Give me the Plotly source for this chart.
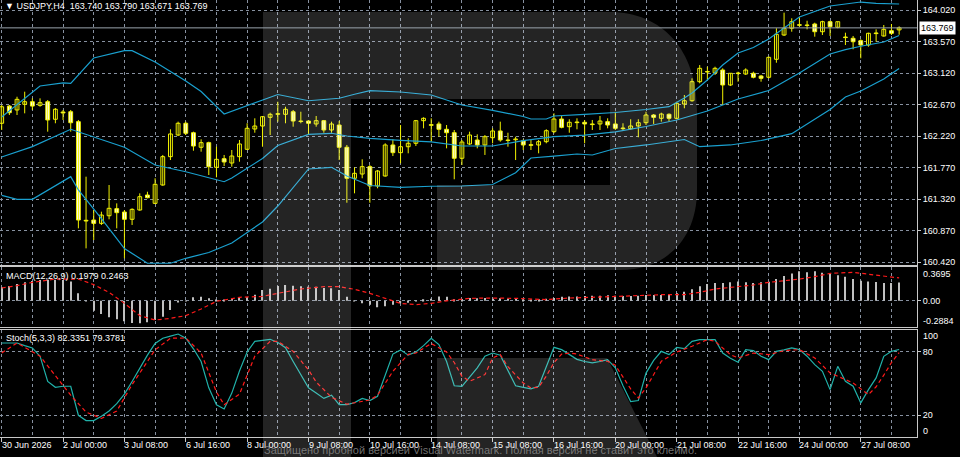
import plotly.graph_objects as go
from plotly.subplots import make_subplots

# USDJPY H4, values (bar index 0 = leftmost candle)
bar_idx = list(range(118))

open_ = [162.406, 162.652, 162.596, 162.677, 162.714, 162.662, 162.714, 162.463, 162.567, 162.571,
         162.429, 161.020, 161.024, 160.976, 161.085, 161.186, 161.138, 161.034, 161.167, 161.381,
         161.262, 161.524, 161.929, 162.238, 162.406, 162.271, 162.063, 162.129, 161.777, 161.900,
         161.838, 161.929, 162.034, 162.324, 162.367, 162.491, 162.534, 162.534, 162.571, 162.438,
         162.438, 162.396, 162.443, 162.310, 162.381, 162.063, 161.620, 161.681, 161.786, 161.510,
         161.653, 162.096, 161.986, 162.071, 162.120, 162.443, 162.386, 162.396, 162.320, 162.271,
         161.906, 162.110, 162.167, 162.096, 162.200, 162.296, 162.167, 162.171, 162.157, 162.100,
         162.096, 162.143, 162.286, 162.467, 162.357, 162.424, 162.420, 162.396, 162.396, 162.429,
         162.396, 162.338, 162.328, 162.367, 162.414, 162.524, 162.477, 162.534, 162.477, 162.681,
         162.728, 163.000, 163.146, 163.128, 163.167, 162.953, 163.124, 163.110, 163.120, 163.081,
         163.063, 163.320, 163.667, 163.763, 163.814, 163.810, 163.824, 163.714, 163.857, 163.777,
         163.638, 163.620, 163.586, 163.524, 163.696, 163.653, 163.728, 163.740]
high = [162.667, 162.667, 162.785, 162.857, 162.762, 162.762, 162.738, 162.624, 162.596, 162.596,
        162.453, 161.643, 161.167, 161.143, 161.524, 161.262, 161.167, 161.191, 161.405, 161.428,
        161.620, 161.953, 162.320, 162.429, 162.429, 162.286, 162.177, 162.143, 162.071, 161.953,
        162.024, 162.167, 162.406, 162.477, 162.510, 162.557, 162.714, 162.642, 162.596, 162.571,
        162.446, 162.510, 162.453, 162.429, 162.438, 162.096, 161.777, 161.891, 161.810, 161.738,
        162.120, 162.177, 162.381, 162.191, 162.453, 162.491, 162.477, 162.429, 162.381, 162.310,
        162.167, 162.286, 162.248, 162.238, 162.334, 162.429, 162.271, 162.214, 162.177, 162.177,
        162.167, 162.320, 162.548, 162.510, 162.463, 162.477, 162.453, 162.453, 162.510, 162.477,
        162.571, 162.406, 162.463, 162.463, 162.571, 162.538, 162.557, 162.548, 162.714, 162.810,
        163.048, 163.238, 163.214, 163.214, 163.191, 163.120, 163.143, 163.191, 163.143, 163.096,
        163.357, 163.763, 163.986, 163.906, 163.920, 163.871, 163.843, 163.871, 163.871, 163.857,
        163.700, 163.653, 163.606, 163.700, 163.748, 163.810, 163.824, 163.790]
low = [162.310, 162.524, 162.524, 162.548, 162.596, 162.642, 162.286, 162.406, 162.453, 162.286,
       160.905, 160.619, 160.738, 160.953, 161.034, 160.905, 160.477, 160.953, 161.157, 161.334,
       161.253, 161.514, 161.881, 162.224, 162.238, 162.014, 162.000, 161.667, 161.634, 161.796,
       161.786, 161.857, 162.024, 162.271, 162.071, 162.238, 162.429, 162.406, 162.357, 162.406,
       162.238, 162.357, 162.271, 162.271, 161.881, 161.271, 161.405, 161.620, 161.271, 161.477,
       161.643, 161.938, 161.834, 161.977, 162.081, 162.334, 162.143, 162.214, 162.048, 161.606,
       161.810, 162.096, 162.048, 161.953, 162.120, 162.143, 162.071, 161.881, 162.024, 162.024,
       161.977, 162.120, 162.263, 162.334, 162.271, 162.320, 162.120, 162.310, 162.310, 162.334,
       162.310, 162.300, 162.310, 162.206, 162.381, 162.396, 162.429, 162.429, 162.463, 162.620,
       162.714, 162.977, 163.024, 163.096, 162.667, 162.938, 163.000, 163.096, 163.048, 163.000,
       163.048, 163.271, 163.653, 163.714, 163.786, 163.748, 163.643, 163.667, 163.653, 163.763,
       163.524, 163.463, 163.334, 163.500, 163.571, 163.643, 163.667, 163.671]
close = [162.642, 162.557, 162.748, 162.714, 162.652, 162.700, 162.453, 162.606, 162.553, 162.414,
         161.024, 161.010, 160.976, 161.095, 161.191, 161.129, 161.034, 161.176, 161.357, 161.343,
         161.534, 161.929, 162.253, 162.406, 162.263, 162.081, 162.129, 161.786, 161.891, 161.853,
         161.938, 162.110, 162.334, 162.367, 162.500, 162.534, 162.543, 162.606, 162.438, 162.431,
         162.406, 162.443, 162.310, 162.396, 162.063, 161.620, 161.691, 161.786, 161.510, 161.724,
         162.096, 161.986, 162.071, 162.120, 162.443, 162.477, 162.377, 162.320, 162.271, 161.906,
         162.138, 162.238, 162.096, 162.214, 162.296, 162.167, 162.160, 162.181, 162.096, 162.091,
         162.143, 162.300, 162.467, 162.348, 162.420, 162.415, 162.396, 162.387, 162.438, 162.381,
         162.334, 162.329, 162.367, 162.414, 162.524, 162.491, 162.538, 162.477, 162.691, 162.728,
         163.000, 163.191, 163.138, 163.191, 162.953, 163.120, 163.116, 163.167, 163.063, 163.048,
         163.348, 163.677, 163.763, 163.857, 163.806, 163.803, 163.714, 163.857, 163.786, 163.857,
         163.630, 163.571, 163.524, 163.691, 163.687, 163.748, 163.691, 163.769]

# Bollinger bands, read at selected bars
upper_idx = [0, 2, 5, 8, 9, 12, 16, 17, 20, 24, 26, 29, 33, 36, 40, 44, 46, 48, 52, 56,
             60, 64, 68, 69, 71, 72, 76, 80, 84, 87, 89, 90, 92, 94, 96, 98, 100, 104, 108, 112,
             114, 117]
upper = [162.495, 162.667, 162.938, 162.984, 162.977, 163.338, 163.443, 163.443, 163.281, 163.010,
         162.860, 162.538, 162.703, 162.817, 162.728, 162.763, 162.820, 162.871, 162.853, 162.810,
         162.667, 162.591, 162.503, 162.467, 162.467, 162.510, 162.534, 162.560, 162.603, 162.643,
         162.767, 162.838, 163.024, 163.238, 163.410, 163.488, 163.610, 163.924, 164.081, 164.138,
         164.120, 164.110]
middle_idx = [0, 4, 9, 13, 16, 20, 24, 29, 30, 34, 36, 40, 43, 45, 48, 52, 56, 60, 64, 68,
              72, 76, 80, 84, 88, 92, 96, 100, 104, 108, 110, 112, 115, 117]
middle = [161.924, 162.073, 162.320, 162.167, 162.063, 161.810, 161.714, 161.571, 161.624, 161.903,
          162.088, 162.248, 162.263, 162.224, 162.191, 162.163, 162.141, 162.081, 162.081, 162.158,
          162.214, 162.237, 162.283, 162.360, 162.453, 162.581, 162.753, 162.874, 163.124, 163.396,
          163.457, 163.506, 163.567, 163.660]
lower_idx = [0, 2, 4, 6, 9, 10, 13, 16, 19, 22, 24, 27, 30, 34, 36, 40, 43, 45, 48, 52,
             56, 60, 64, 67, 69, 72, 75, 77, 80, 84, 88, 89, 91, 95, 99, 103, 108, 110, 112, 115,
             117]
lower = [161.377, 161.320, 161.320, 161.453, 161.643, 161.453, 161.045, 160.617, 160.406, 160.406,
         160.477, 160.560, 160.696, 160.996, 161.224, 161.753, 161.777, 161.653, 161.517, 161.491,
         161.506, 161.510, 161.531, 161.700, 161.910, 161.938, 161.967, 161.953, 162.046, 162.096,
         162.167, 162.174, 162.071, 162.096, 162.160, 162.257, 162.603, 162.781, 162.867, 163.038,
         163.188]

# MACD(12,26,9)
macd = [0.145, 0.159, 0.181, 0.199, 0.213, 0.224, 0.227, 0.227, 0.224, 0.209,
        0.081, 0.002, -0.106, -0.141, -0.177, -0.199, -0.220, -0.238, -0.242, -0.231,
        -0.206, -0.170, -0.098, -0.009, 0.002, 0.038, 0.045, 0.027, 0.013, 0.009,
        0.023, 0.030, 0.038, 0.066, 0.116, 0.131, 0.159, 0.170, 0.163, 0.156,
        0.152, 0.152, 0.138, 0.134, 0.116, 0.045, -0.002, -0.027, -0.041, -0.070,
        -0.059, -0.041, -0.027, -0.020, -0.005, 0.016, 0.023, 0.048, 0.045, 0.016,
        0.020, 0.030, 0.027, 0.030, 0.023, 0.027, 0.023, 0.023, 0.016, 0.013,
        0.016, 0.023, 0.030, 0.045, 0.048, 0.048, 0.052, 0.055, 0.055, 0.059,
        0.055, 0.052, 0.052, 0.055, 0.063, 0.063, 0.063, 0.063, 0.081, 0.098,
        0.124, 0.156, 0.181, 0.192, 0.192, 0.199, 0.209, 0.199, 0.192, 0.199,
        0.206, 0.234, 0.267, 0.295, 0.317, 0.306, 0.317, 0.302, 0.295, 0.274,
        0.260, 0.234, 0.217, 0.209, 0.202, 0.192, 0.192, 0.198]
signal_idx = [0, 2, 4, 7, 10, 12, 14, 16, 18, 20, 22, 24, 26, 28, 31, 34, 36, 39, 42, 44,
              46, 48, 50, 52, 54, 56, 58, 61, 64, 67, 71, 74, 77, 80, 83, 86, 89, 91, 93, 95,
              98, 100, 104, 106, 108, 111, 113, 115, 117]
signal = [0.138, 0.163, 0.199, 0.234, 0.234, 0.174, 0.091, -0.027, -0.159, -0.206,
          -0.188, -0.159, -0.088, -0.005, 0.038, 0.048, 0.081, 0.127, 0.152, 0.152,
          0.124, 0.081, 0.027, -0.027, -0.041, -0.027, 0.000, 0.027, 0.030, 0.027,
          0.013, 0.030, 0.038, 0.048, 0.063, 0.066, 0.066, 0.091, 0.127, 0.145,
          0.170, 0.199, 0.234, 0.260, 0.295, 0.306, 0.288, 0.263, 0.246]

# Stochastic(5,3,3)
stoch_k = [88.5, 88.5, 88.5, 86, 83.8, 76, 52, 46.5, 47.5, 47.5,
           20, 15, 15, 19, 24, 31, 40, 52, 65, 77,
           88, 93, 95, 97, 93, 83, 71, 46, 30, 26,
           41, 62, 80, 90, 91, 92, 89, 84, 71, 58,
           46, 41, 36, 39, 30, 30, 32, 36, 34, 38,
           58, 78, 82, 77, 80, 86, 93, 87, 71, 48,
           47.5, 56, 65, 76, 79, 77, 62, 48, 46.5, 45,
           47.5, 66, 84.4, 82.2, 78, 73, 71, 69.6, 71, 72.7,
           65, 48, 33, 34, 60, 72, 80.6, 77.5, 84.4, 83.2,
           90, 91.7, 91.7, 91.7, 79, 74, 70.2, 82.2, 81.3, 76,
           72.7, 80.6, 82, 83.8, 82.2, 76, 68, 61.7, 44.3, 66.4,
           52.2, 47.5, 31.7, 44.3, 55.4, 75.9, 80.6, 82.3]
stoch_d_idx = [0, 2, 5, 7, 9, 11, 13, 15, 17, 20, 22, 24, 26, 28, 29, 31, 33, 35, 36, 38,
               40, 41, 43, 45, 48, 49, 51, 53, 54, 56, 58, 59, 60, 61, 63, 64, 65, 66, 68, 69,
               70, 71, 72, 73, 74, 75, 77, 79, 80, 82, 83, 84, 86, 88, 90, 92, 93, 95, 96, 98,
               100, 102, 104, 106, 108, 109, 110, 111, 113, 114, 115, 116, 117]
stoch_d = [79, 88.5, 76, 58, 39, 23, 17, 24, 49, 82, 93, 93.3, 79, 42, 30, 40, 76, 90, 90.1, 80.6,
           63, 51.5, 37, 30.5, 34.5, 39, 61.7, 77.8, 79, 88, 80, 70, 57, 52.2, 58.5, 74.3, 77.5, 66, 50.6, 45.9,
           46.5, 57, 70, 78, 79, 78, 72.7, 71.2, 67.4, 45, 36.4, 45.9, 71.2, 80, 85.4, 91.7, 90.1, 77.5, 74.3, 79,
           77.5, 81.3, 82.2, 74.3, 60.1, 57, 53.8, 50.6, 39.6, 47, 58, 70, 79.4]

price_ticks = [164.020, 163.570, 163.120, 162.670, 162.220, 161.770, 161.320, 160.870, 160.420]
time_idx = [0, 8, 16, 24, 32, 40, 48, 56, 64, 72, 80, 88, 96, 104, 112]
time_labels = ["30 Jun 2026", "2 Jul 00:00", "3 Jul 08:00", "6 Jul 16:00", "8 Jul 00:00",
               "9 Jul 08:00", "10 Jul 16:00", "14 Jul 08:00", "15 Jul 08:00", "16 Jul 16:00",
               "20 Jul 00:00", "21 Jul 08:00", "22 Jul 16:00", "24 Jul 00:00", "27 Jul 08:00"]

FONT = "Liberation Sans, Arial, sans-serif"
CANDLE = "#f2f200"
BAND = "#1aa0cf"
GRID = "#8791a0"
FRAME = "#c8c8c8"
W, H = 917, 437  # plot area in pixels


def px(x):
    return x / W


def py(y):
    return (H - y) / H


fig = make_subplots(rows=3, cols=1, shared_xaxes=True)

# candles: wicks first, then bodies on top
wick_x, wick_y = [], []
for i, hi, lo in zip(bar_idx, high, low):
    wick_x += [i, i, None]
    wick_y += [lo, hi, None]
fig.add_trace(go.Scatter(x=wick_x, y=wick_y, mode="lines",
                         line=dict(color=CANDLE, width=1)), row=1, col=1)

body_base = [min(o, c) for o, c in zip(open_, close)]
body_h = [abs(c - o) for o, c in zip(open_, close)]
body_fill = ["#000000" if c >= o else "#ffffff" for o, c in zip(open_, close)]
fig.add_trace(go.Bar(x=bar_idx, y=body_h, base=body_base, width=0.5,
                     marker=dict(color=body_fill, line=dict(color=CANDLE, width=1))),
              row=1, col=1)

for bx, by in [(upper_idx, upper), (middle_idx, middle), (lower_idx, lower)]:
    fig.add_trace(go.Scatter(x=bx, y=by, mode="lines",
                             line=dict(color=BAND, width=1.2)), row=1, col=1)

# MACD histogram + signal
fig.add_trace(go.Bar(x=bar_idx, y=macd, width=0.15,
                     marker=dict(color="#c0c0c0", line=dict(width=0))), row=2, col=1)
fig.add_trace(go.Scatter(x=signal_idx, y=signal, mode="lines",
                         line=dict(color="#ff1a1a", width=1.2, dash="4px,3px")), row=2, col=1)

# Stochastic
fig.add_trace(go.Scatter(x=bar_idx, y=stoch_k, mode="lines",
                         line=dict(color="#20b2aa", width=1.2)), row=3, col=1)
fig.add_trace(go.Scatter(x=stoch_d_idx, y=stoch_d, mode="lines",
                         line=dict(color="#ff1a1a", width=1.2, dash="4px,3px")), row=3, col=1)

xcommon = dict(range=[-0.22, 119.33], showline=True, mirror=True, linecolor=FRAME, linewidth=1,
               tick0=0, dtick=8, showgrid=True, gridcolor=GRID, griddash="3px,3px", gridwidth=1,
               minor=dict(tick0=4, dtick=8, showgrid=True, gridcolor=GRID, griddash="3px,3px"),
               showticklabels=False, zeroline=False, fixedrange=True)
fig.update_xaxes(**xcommon)
fig.update_xaxes(ticks="outside", ticklen=4, tickcolor=FRAME, row=3, col=1)

ycommon = dict(side="right", showline=True, mirror=True, linecolor=FRAME, linewidth=1,
               ticks="outside", ticklen=3, tickcolor=FRAME, zeroline=False,
               showgrid=True, gridcolor=GRID, griddash="3px,3px", fixedrange=True,
               tickfont=dict(family=FONT, size=9, color="#ffffff"))
fig.update_yaxes(**ycommon)
fig.update_yaxes(domain=[py(264.5), 1], range=[164.167 - 264.5 / 70, 164.167],
                 tickvals=price_ticks, ticktext=[f"{p:.3f}" for p in price_ticks], row=1, col=1)
fig.update_yaxes(domain=[py(327), py(266.5)], range=[-0.281, 0.369],
                 tickvals=[0], ticktext=["0.00"], row=2, col=1)
fig.update_yaxes(domain=[0, py(329.5)], range=[-0.6, 101.3],
                 tickvals=[20, 80], ticktext=["20", "80"], row=3, col=1)

# RoboForex-style watermark overlay
wm = "rgba(255,255,255,0.14)"
stem = (f"M {px(263)},{py(12)} L {px(351)},{py(12)} L {px(351)},{py(457)} "
        f"L {px(263)},{py(457)} Z")
bowl = (f"M {px(351)},{py(12)} L {px(610)},{py(12)} "
        f"C {px(662)},{py(12)} {px(697)},{py(50)} {px(697)},{py(110)} "
        f"L {px(697)},{py(190)} C {px(697)},{py(240)} {px(665)},{py(270)} {px(620)},{py(270)} "
        f"L {px(437)},{py(270)} L {px(437)},{py(185)} L {px(610)},{py(185)} "
        f"L {px(610)},{py(99)} L {px(351)},{py(99)} Z")
leg = (f"M {px(437)},{py(358)} L {px(607)},{py(358)} L {px(657)},{py(457)} "
       f"L {px(437)},{py(457)} Z")
shapes = [dict(type="path", path=p, xref="paper", yref="paper", fillcolor=wm,
               line=dict(width=0), layer="above") for p in (stem, bowl, leg)]

# last price line
shapes.append(dict(type="line", xref="x domain", yref="y", x0=0, x1=1,
                   y0=close[-1], y1=close[-1], line=dict(color="#9aa3ad", width=1)))

annotations = []
txt = dict(family=FONT, size=9, color="#ffffff")
annotations.append(dict(text="▼ USDJPY,H4  163.740 163.790 163.671 163.769",
                        xref="paper", yref="paper", x=px(3), y=py(6), xanchor="left",
                        yanchor="middle", showarrow=False, font=txt))
annotations.append(dict(text="MACD(12,26,9) 0.1979 0.2463",
                        xref="paper", yref="paper", x=px(4), y=py(276), xanchor="left",
                        yanchor="middle", showarrow=False, font=txt))
annotations.append(dict(text="Stoch(5,3,3) 82.3351 79.3781",
                        xref="paper", yref="paper", x=px(4), y=py(338), xanchor="left",
                        yanchor="middle", showarrow=False, font=txt))
annotations.append(dict(text=f"{close[-1]:.3f}", xref="paper", yref="y", x=px(919), y=close[-1],
                        xanchor="left", yanchor="middle", showarrow=False, bgcolor="#ffffff",
                        borderpad=1, font=dict(family=FONT, size=9, color="#000000")))
for lab, ypix in [("0.3695", 274), ("-0.2884", 321), ("100", 336), ("0", 431)]:
    annotations.append(dict(text=lab, xref="paper", yref="paper", x=px(921), y=py(ypix),
                            xanchor="left", yanchor="middle", showarrow=False, font=txt))
for i, lab in zip(time_idx, time_labels):
    annotations.append(dict(text=lab, xref="x3", yref="paper", x=i, y=py(445), xshift=-2,
                            xanchor="left", yanchor="middle", showarrow=False, font=txt))
annotations.append(dict(text="Защищено пробной версией Visual Watermark. Полная версия не ставит это клеймо.",
                        xref="paper", yref="paper", x=px(480), y=py(449.5), xanchor="center",
                        yanchor="middle", showarrow=False,
                        font=dict(family=FONT, size=11, color="rgba(150,150,150,0.75)")))

fig.update_layout(width=960, height=457, margin=dict(l=0, r=43, t=0, b=20),
                  paper_bgcolor="#000000", plot_bgcolor="#000000", showlegend=False,
                  barmode="overlay", shapes=shapes, annotations=annotations,
                  hovermode=False)

# the page body has a default 8px margin; drop it so the chart sits at the window corner
fig.write_html("out.html", config={"displayModeBar": False},
               post_script="document.body.style.margin='0';"
                           "document.body.style.background='#000';"
                           "document.body.style.overflow='hidden';")
